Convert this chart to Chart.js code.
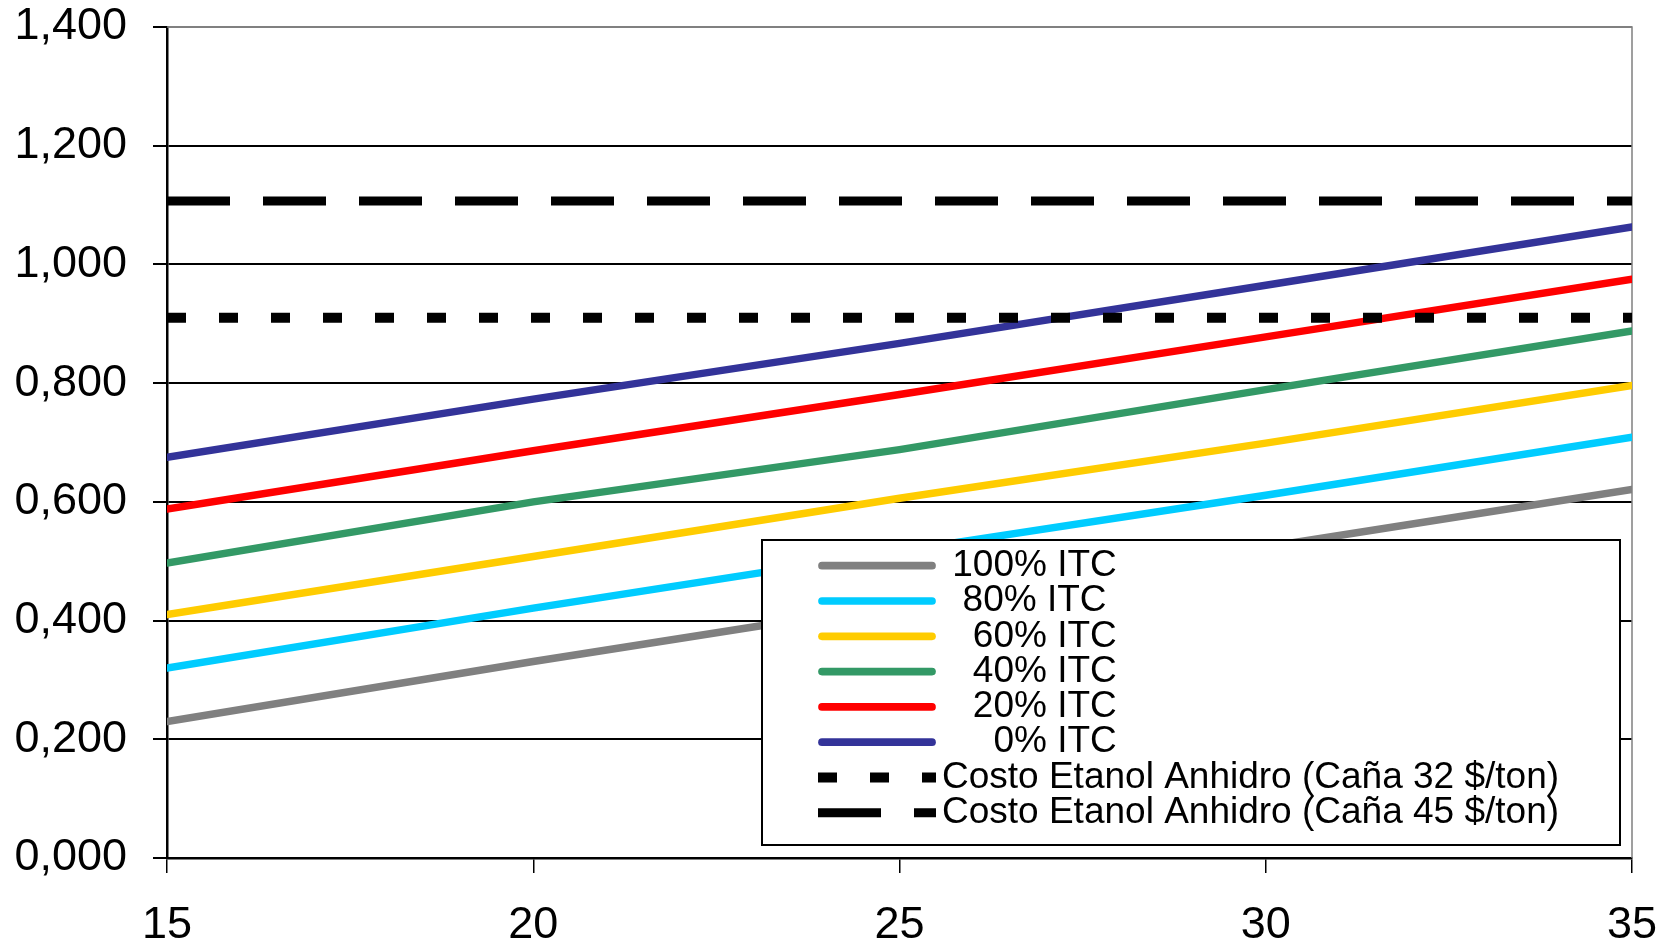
<!DOCTYPE html>
<html>
<head>
<meta charset="utf-8">
<script src="https://cdn.jsdelivr.net/npm/chart.js@4/dist/chart.umd.min.js"></script>
<style>
  html, body { margin: 0; padding: 0; background: #fff; }
  canvas { display: block; }
</style>
</head>
<body>
<canvas id="grafico" width="1665" height="947"></canvas>
<script>
// Precio de la caña (eje X) y costo por serie de ITC
const precios = [15, 20, 25, 30, 35];
const itc100 = [0.230, 0.331, 0.428, 0.524, 0.621];
const itc80  = [0.320, 0.421, 0.517, 0.611, 0.709];
const itc60  = [0.410, 0.508, 0.606, 0.699, 0.796];
const itc40  = [0.497, 0.600, 0.688, 0.789, 0.888];
const itc20  = [0.588, 0.686, 0.781, 0.878, 0.975];
const itc0   = [0.675, 0.773, 0.867, 0.965, 1.063];

// Costos de referencia del etanol anhidro (líneas horizontales)
const extremos = [15, 35];
const costoCana32 = [0.910, 0.910];
const costoCana45 = [1.107, 1.107];

const etiquetas = [
  ' 100% ITC',
  '  80% ITC',
  '   60% ITC',
  '   40% ITC',
  '   20% ITC',
  '     0% ITC',
  'Costo Etanol Anhidro (Caña 32 $/ton)',
  'Costo Etanol Anhidro (Caña 45 $/ton)'
];
const colores = ['#808080', '#00CCFF', '#FFCC00', '#339966', '#FF0000', '#333399', '#000000', '#000000'];

const ejeXTicks = [15, 20, 25, 30, 35];
const ejeYTicks = [0, 0.2, 0.4, 0.6, 0.8, 1.0, 1.2, 1.4];

const FUENTE = '"Liberation Sans", Arial, sans-serif';

const pares = (xs, ys) => xs.map((x, i) => ({ x: x, y: ys[i] }));

const series = [itc100, itc80, itc60, itc40, itc20, itc0];
const datasets = series.map((vals, i) => ({
  label: etiquetas[i],
  data: pares(precios, vals),
  borderColor: colores[i],
  backgroundColor: colores[i],
  borderWidth: 7.5,
  borderCapStyle: 'round',
  pointRadius: 0,
  tension: 0,
  order: -i
}));
datasets.push({
  label: etiquetas[6],
  data: pares(extremos, costoCana32),
  borderColor: colores[6],
  borderWidth: 10,
  borderDash: [19, 33],
  borderCapStyle: 'butt',
  pointRadius: 0,
  order: -6
});
datasets.push({
  label: etiquetas[7],
  data: pares(extremos, costoCana45),
  borderColor: colores[7],
  borderWidth: 9,
  borderDash: [63, 33],
  borderCapStyle: 'butt',
  pointRadius: 0,
  order: -7
});

// Marco gris superior y derecho del área de trazado
const marco = {
  id: 'marco',
  beforeDatasetsDraw(chart) {
    const { ctx, chartArea: a } = chart;
    ctx.save();
    ctx.strokeStyle = '#808080';
    ctx.lineWidth = 1.5;
    ctx.beginPath();
    ctx.moveTo(a.left, a.top);
    ctx.lineTo(a.right, a.top);
    ctx.lineTo(a.right, a.bottom);
    ctx.stroke();
    ctx.restore();
  }
};

// Leyenda con recuadro dentro del área de trazado
const leyenda = {
  id: 'leyenda',
  afterDatasetsDraw(chart) {
    const { ctx, chartArea: a } = chart;
    const w = 858, h = 305;
    const x0 = a.right - 12 - w;
    const y0 = a.bottom - 13 - h;
    ctx.save();
    ctx.fillStyle = '#fff';
    ctx.fillRect(x0, y0, w, h);
    ctx.lineWidth = 2;
    ctx.strokeStyle = '#000';
    ctx.strokeRect(x0, y0, w, h);
    ctx.font = '37px ' + FUENTE;
    ctx.textBaseline = 'middle';
    ctx.textAlign = 'left';
    chart.data.datasets.forEach((ds, i) => {
      const y = y0 + 25.7 + i * 35.3;
      ctx.beginPath();
      ctx.strokeStyle = ds.borderColor;
      if (ds.borderDash && ds.borderDash.length) {
        ctx.lineWidth = ds.borderWidth;
        ctx.setLineDash(ds.borderDash);
        ctx.lineCap = 'butt';
        ctx.moveTo(x0 + 56, y);
        ctx.lineTo(x0 + 174, y);
      } else {
        ctx.lineWidth = 7.7;
        ctx.setLineDash([]);
        ctx.lineCap = 'round';
        ctx.moveTo(x0 + 60, y);
        ctx.lineTo(x0 + 170, y);
      }
      ctx.stroke();
      ctx.setLineDash([]);
      ctx.fillStyle = '#000';
      ctx.fillText(ds.label, x0 + 180, y);
    });
    ctx.restore();
  }
};

new Chart(document.getElementById('grafico'), {
  type: 'line',
  data: { datasets: datasets },
  options: {
    responsive: false,
    animation: false,
    devicePixelRatio: 1,
    layout: { padding: { top: 27, right: 33, left: 0, bottom: 0 } },
    plugins: {
      legend: { display: false },
      tooltip: { enabled: false },
      title: { display: false }
    },
    scales: {
      x: {
        type: 'linear',
        min: 15,
        max: 35,
        afterBuildTicks(scale) {
          scale.ticks = ejeXTicks.map(v => ({ value: v }));
        },
        afterFit(scale) {
          scale.height = 89;
          scale.paddingLeft = 0;
          scale.paddingRight = 0;
        },
        ticks: {
          color: '#000',
          font: { family: FUENTE, size: 45 },
          padding: 26,
          maxRotation: 0,
          autoSkip: false
        },
        grid: {
          display: true,
          drawOnChartArea: false,
          drawTicks: true,
          tickLength: 15,
          color: '#000',
          lineWidth: 1.5
        },
        border: { display: true, color: '#000', width: 2.5 }
      },
      y: {
        type: 'linear',
        min: 0,
        max: 1.4,
        afterBuildTicks(scale) {
          scale.ticks = ejeYTicks.map(v => ({ value: v }));
        },
        afterFit(scale) {
          scale.width = 167;
          scale.paddingTop = 0;
          scale.paddingBottom = 0;
        },
        ticks: {
          color: '#000',
          font: { family: FUENTE, size: 45 },
          padding: 26,
          autoSkip: false,
          callback: v => Number(v).toFixed(3).replace('.', ',')
        },
        grid: {
          display: true,
          drawTicks: true,
          tickLength: 14,
          color: ctx => (ctx.tick && Math.abs(ctx.tick.value - 1.4) < 1e-9) ? '#808080' : '#000',
          tickColor: '#000',
          lineWidth: 2
        },
        border: { display: true, color: '#000', width: 2.5 }
      }
    }
  },
  plugins: [marco, leyenda]
});
</script>
</body>
</html>
